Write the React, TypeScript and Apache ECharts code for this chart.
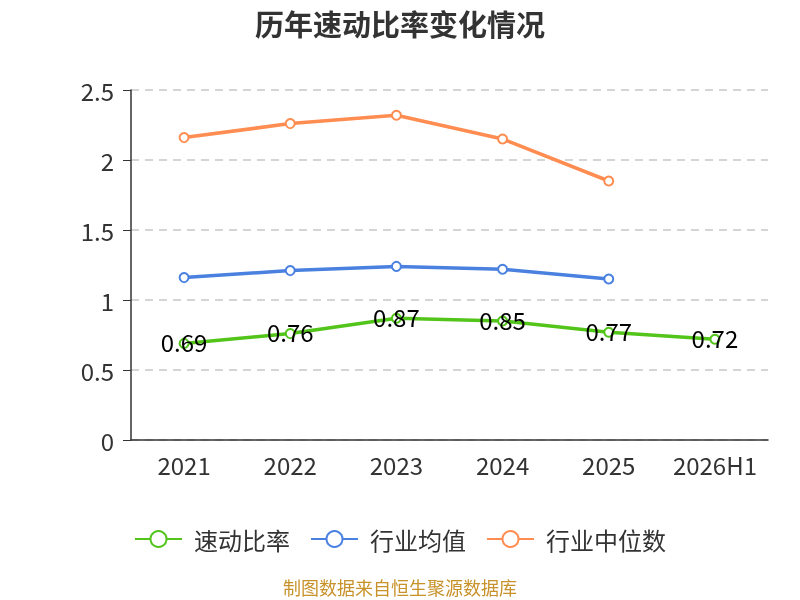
import React, { useEffect, useRef } from "react";
import * as echarts from "echarts";

const categories = ["2021", "2022", "2023", "2024", "2025", "2026H1"];
const quickRatio = [0.69, 0.76, 0.87, 0.85, 0.77, 0.72];
const industryAvg = [1.16, 1.21, 1.24, 1.22, 1.15, null];
const industryMedian = [2.16, 2.26, 2.32, 2.15, 1.85, null];
const yTicks = [0, 0.5, 1, 1.5, 2, 2.5];

const FONT = "'Noto Sans CJK SC', 'Noto Sans', sans-serif";

export default function App() {
  const ref = useRef<HTMLDivElement>(null);
  useEffect(() => {
    const chart = echarts.init(ref.current!, null, { renderer: "svg" });
    chart.setOption({
      animation: false,
      textStyle: { fontFamily: FONT },
      title: {
        text: "历年速动比率变化情况",
        left: "center",
        top: 3,
        textStyle: { fontSize: 29, fontWeight: "bold", color: "#333", fontFamily: FONT },
      },
      legend: {
        top: 522,
        left: "center",
        itemWidth: 47,
        itemHeight: 20,
        itemGap: 20,
        textStyle: { fontSize: 24, color: "#333", fontFamily: FONT, padding: [0, 0, 0, 7] },
        data: ["速动比率", "行业均值", "行业中位数"],
      },
      graphic: [
        {
          type: "text",
          left: "center",
          top: 578,
          style: { text: "制图数据来自恒生聚源数据库", fill: "#c8922a", fontSize: 18, fontFamily: FONT },
        },
      ],
      grid: { left: 131, right: 32, top: 90, bottom: 160 },
      xAxis: {
        type: "category",
        data: categories,
        axisLine: { lineStyle: { color: "#333", width: 1.5 } },
        axisTick: { length: 8, lineStyle: { color: "#333" } },
        axisLabel: { fontSize: 24, color: "#333", margin: 12, interval: 0, fontFamily: FONT },
      },
      yAxis: {
        type: "value",
        min: yTicks[0],
        max: yTicks[yTicks.length - 1],
        interval: 0.5,
        axisLine: { show: true, lineStyle: { color: "#333", width: 1.5 } },
        axisTick: { show: true, length: 8, lineStyle: { color: "#333" } },
        axisLabel: { fontSize: 24, color: "#333", margin: 17, fontFamily: FONT },
        splitLine: { lineStyle: { type: [8, 6], color: "#c8c8c8", width: 1.5 } },
      },
      series: [
        {
          name: "速动比率",
          type: "line",
          data: quickRatio,
          symbol: "emptyCircle",
          symbolSize: 9,
          lineStyle: { width: 3.5, color: "#52c41a" },
          itemStyle: { color: "#52c41a", borderWidth: 2 },
          label: {
            show: true,
            position: "inside",
            offset: [0, -2],
            fontSize: 24,
            color: "#000",
            fontFamily: FONT,
          },
          z: 3,
        },
        {
          name: "行业均值",
          type: "line",
          data: industryAvg,
          symbol: "emptyCircle",
          symbolSize: 9,
          lineStyle: { width: 3.5, color: "#4a80e0" },
          itemStyle: { color: "#4a80e0", borderWidth: 2 },
        },
        {
          name: "行业中位数",
          type: "line",
          data: industryMedian,
          symbol: "emptyCircle",
          symbolSize: 9,
          lineStyle: { width: 3.5, color: "#ff8c50" },
          itemStyle: { color: "#ff8c50", borderWidth: 2 },
        },
      ],
    });
    return () => chart.dispose();
  }, []);
  return (
    <div
      ref={ref}
      style={{ position: "fixed", left: 0, top: 0, width: 800, height: 600 }}
    />
  );
}
